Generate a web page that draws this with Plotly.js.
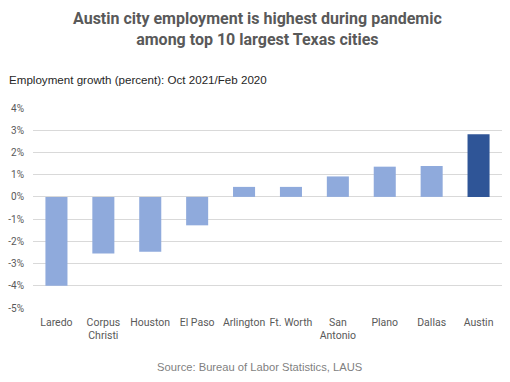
<!DOCTYPE html>
<html><head><meta charset="utf-8">
<script src="https://cdn.plot.ly/plotly-3.0.1.min.js"></script>
<style>html,body{margin:0;padding:0;background:#fff}#c{width:510px;height:382px}</style>
</head><body><div id="c"></div>
<script>
const cities = ["Laredo","Corpus<br>Christi","Houston","El Paso","Arlington","Ft. Worth","San<br>Antonio","Plano","Dallas","Austin"];
const growth = [-4.0,-2.55,-2.47,-1.28,0.45,0.45,0.92,1.36,1.39,2.82];
const tickVals = [-5,-4,-3,-2,-1,0,1,2,3,4];
const tickText = ["-5%","-4%","-3%","-2%","-1%","0%","1%","2%","3%","4%"];
const light = "#8faadc", dark = "#2f5597";
const colors = cities.map(c => c === "Austin" ? dark : light);

const trace = {type:"bar", x:cities, y:growth, marker:{color:colors}, width:0.47, hoverinfo:"none"};
const layout = {
  width:510, height:382,
  margin:{l:33, r:8, t:108, b:74},
  paper_bgcolor:"#fff", plot_bgcolor:"#fff",
  font:{family:"Roboto, Liberation Sans, sans-serif", color:"#595959", size:10.5},
  showlegend:false,
  xaxis:{type:"category", tickfont:{size:10.5, color:"#595959"}, showgrid:false, zeroline:false, showline:false, ticks:"", automargin:false, ticklabelstandoff:6},
  yaxis:{range:[-5,4], tickvals:tickVals, ticktext:tickText, showgrid:true, gridcolor:"#d9d9d9", gridwidth:1,
         zeroline:false, showline:false, ticks:"", tickfont:{size:10, color:"#595959"}, automargin:false, ticklabelstandoff:8},
  annotations:[
    {text:"<b>Austin city employment is highest during pandemic<br>among top 10 largest Texas cities</b>",
     xref:"paper", yref:"paper", x:(257-33)/469, y:1+(108-29)/200, xanchor:"center", yanchor:"middle", showarrow:false,
     font:{family:"Roboto, sans-serif", size:16, color:"#595959"}},
    {text:"Employment growth (percent): Oct 2021/Feb 2020", xref:"paper", yref:"paper", x:(7-33)/469, y:1+(108-80)/200,
     xanchor:"left", yanchor:"middle", showarrow:false, font:{size:11.6, color:"#262626", family:"Liberation Sans, Arial, sans-serif"}},
    {text:"Source: Bureau of Labor Statistics, LAUS", xref:"paper", yref:"paper", x:(259-33)/469, y:-(367-308)/200,
     xanchor:"center", yanchor:"middle", showarrow:false, font:{size:11.2, color:"#7f7f7f", family:"Liberation Sans, Arial, sans-serif"}}
  ]
};
Plotly.newPlot("c",[trace],layout,{displayModeBar:false,staticPlot:true});
</script></body></html>
